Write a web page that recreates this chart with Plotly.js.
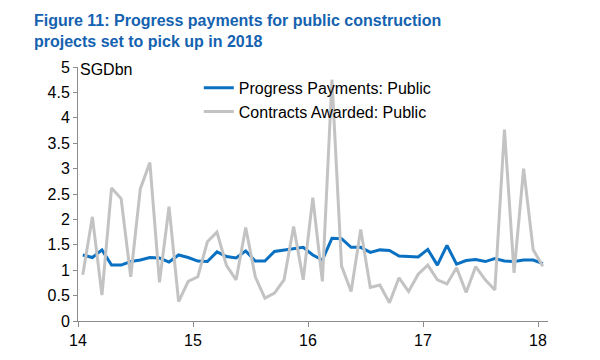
<!DOCTYPE html>
<html>
<head>
<meta charset="utf-8">
<script src="https://cdn.plot.ly/plotly-3.0.1.min.js"></script>
<style>html,body{margin:0;padding:0;background:#fff;}#chart{width:600px;height:360px;}</style>
</head>
<body>
<div id="chart"></div>
<script>
// Monthly data, Jan 2014 .. Jan 2018 (SGD bn)
var startYear = 14;
var progressPayments = [1.30,1.25,1.40,1.10,1.10,1.17,1.20,1.25,1.24,1.16,1.30,1.25,
  1.18,1.17,1.36,1.27,1.24,1.38,1.18,1.18,1.37,1.40,1.43,1.45,
  1.30,1.20,1.63,1.62,1.45,1.45,1.35,1.40,1.39,1.28,1.27,1.26,
  1.41,1.10,1.49,1.12,1.19,1.21,1.17,1.23,1.18,1.17,1.20,1.20,
  1.13];
var contractsAwarded = [0.91,2.05,0.51,2.62,2.41,0.87,2.60,3.12,0.76,2.25,0.38,0.78,
  0.87,1.56,1.75,1.09,0.81,1.84,0.87,0.45,0.55,0.81,1.86,0.81,
  2.43,0.78,4.75,1.08,0.58,1.80,0.66,0.71,0.36,0.85,0.58,0.92,
  1.10,0.81,0.73,1.05,0.56,1.07,0.81,0.61,3.77,0.95,3.00,1.40,
  1.08];
var tickVals = [14,15,16,17,18];
var tickText = ['14','15','16','17','18'];
var yTickVals = [0,0.5,1,1.5,2,2.5,3,3.5,4,4.5,5];
var yTickText = ['0','0.5','1','1.5','2','2.5','3','3.5','4','4.5','5'];

var months = progressPayments.map(function(_, i){ return startYear + (i + 0.5) / 12; });

var font = 'Liberation Sans, Arial, sans-serif';
var traces = [
  {x: months, y: progressPayments, type: 'scatter', mode: 'lines',
   name: 'Progress Payments: Public', line: {color: '#0A70C2', width: 3}},
  {x: months, y: contractsAwarded, type: 'scatter', mode: 'lines',
   name: 'Contracts Awarded: Public', line: {color: '#C3C3C3', width: 3}}
];

var layout = {
  width: 600, height: 360,
  margin: {l: 78, r: 52, t: 67, b: 39},
  paper_bgcolor: '#fff', plot_bgcolor: '#fff',
  font: {family: font, size: 16, color: '#000'},
  title: {
    text: '<b>Figure 11: Progress payments for public construction<br>projects set to pick up in 2018</b>',
    font: {family: font, size: 16, color: '#1462B0'},
    x: 34/600, xanchor: 'left', xref: 'container',
    y: 1 - 26/360, yanchor: 'top', yref: 'container'
  },
  xaxis: {
    range: [14, 18.087], tickvals: tickVals, ticktext: tickText,
    showgrid: false, zeroline: false, showline: true, linecolor: '#8C8C8C', linewidth: 1,
    ticks: 'outside', ticklen: 5, tickcolor: '#8C8C8C',
    tickfont: {family: font, size: 16, color: '#000'}, fixedrange: true
  },
  yaxis: {
    range: [0, 5], tickvals: yTickVals, ticktext: yTickText,
    showgrid: false, zeroline: false, showline: true, linecolor: '#8C8C8C', linewidth: 1,
    ticks: 'outside', ticklen: 4, tickcolor: '#8C8C8C',
    tickfont: {family: font, size: 16, color: '#000'}, fixedrange: true
  },
  legend: {
    x: 0.257, y: 0.985, xanchor: 'left', yanchor: 'top',
    bgcolor: 'rgba(0,0,0,0)', font: {family: font, size: 16, color: '#000'},
    tracegroupgap: 0, itemwidth: 30
  },
  showlegend: true,
  annotations: [{
    text: 'SGDbn', xref: 'paper', yref: 'paper', x: 0, y: 1,
    xanchor: 'left', yanchor: 'middle', showarrow: false, yshift: -2,
    font: {family: font, size: 16, color: '#000'}
  }]
};

Plotly.newPlot('chart', traces, layout, {displayModeBar: false, staticPlot: true});
</script>
</body>
</html>
